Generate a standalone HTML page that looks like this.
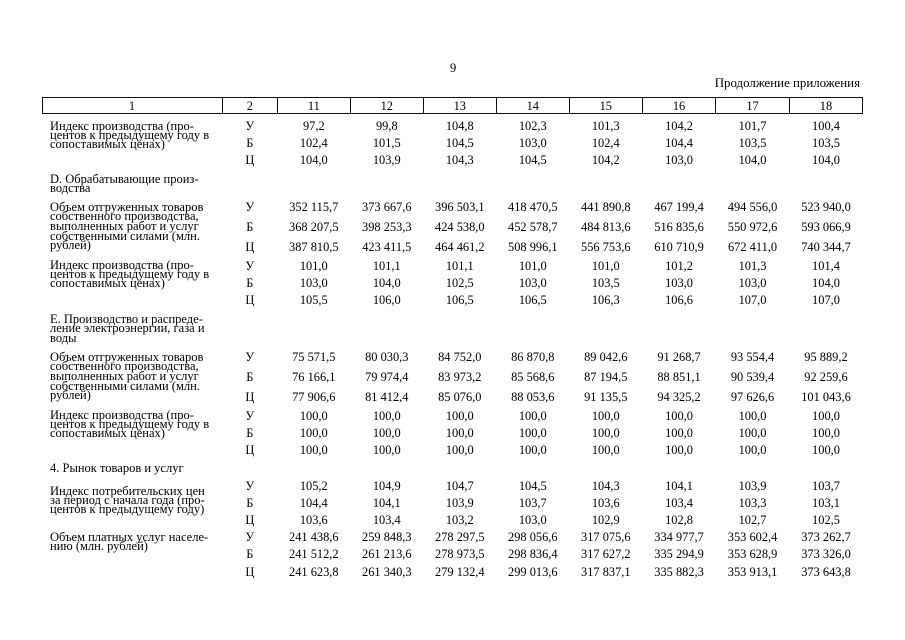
<!DOCTYPE html>
<html><head><meta charset="utf-8">
<style>
html,body{margin:0;padding:0;background:#fff;}
body{width:905px;height:640px;position:relative;overflow:hidden;font-family:"Liberation Serif","Noto Serif CJK SC",serif;color:#000;}
.t{position:absolute;white-space:nowrap;line-height:12px;height:12px;}
.l{position:absolute;left:50px;white-space:nowrap;font-size:12.5px;line-height:12px;height:12px;}
.r{position:absolute;left:0;width:905px;height:12px;line-height:12px;font-size:12.4px;}
.r span{position:absolute;text-align:center;white-space:nowrap;}
.c2{left:222.3px;width:55px;}
.c1{left:277.3px;width:73px;}
.c2b{left:350.3px;width:73px;}
.c3{left:423.3px;width:73px;}
.c4{left:496.3px;width:73px;}
.c5{left:569.3px;width:73px;}
.c6{left:642.3px;width:73.5px;}
.c7{left:715.8px;width:73.5px;}
.c8{left:789.3px;width:73.4px;}
.hl{position:absolute;background:#111;}
</style></head><body>
<div class="t" style="left:450px;top:62px;font-size:12.5px;">9</div>
<div class="t" style="right:45px;top:77px;font-size:12.9px;">Продолжение приложения</div>

<!-- header box -->
<div class="hl" style="left:42px;top:97px;width:821px;height:1px;"></div>
<div class="hl" style="left:42px;top:113px;width:821px;height:1px;"></div>
<div class="hl" style="left:42px;top:97px;width:1px;height:17px;"></div>
<div class="hl" style="left:222px;top:97px;width:1px;height:17px;"></div>
<div class="hl" style="left:277px;top:97px;width:1px;height:17px;"></div>
<div class="hl" style="left:350px;top:97px;width:1px;height:17px;"></div>
<div class="hl" style="left:423px;top:97px;width:1px;height:17px;"></div>
<div class="hl" style="left:496px;top:97px;width:1px;height:17px;"></div>
<div class="hl" style="left:569px;top:97px;width:1px;height:17px;"></div>
<div class="hl" style="left:642px;top:97px;width:1px;height:17px;"></div>
<div class="hl" style="left:715px;top:97px;width:1px;height:17px;"></div>
<div class="hl" style="left:789px;top:97px;width:1px;height:17px;"></div>
<div class="hl" style="left:862px;top:97px;width:1px;height:17px;"></div>
<div class="r" style="top:99.5px;"><span style="left:42px;width:180px;text-align:center">1</span><span class="c2">2</span><span class="c1">11</span><span class="c2b">12</span><span class="c3">13</span><span class="c4">14</span><span class="c5">15</span><span class="c6">16</span><span class="c7">17</span><span class="c8">18</span></div>

<!-- Block A -->
<div class="l" style="top:119.5px;">Индекс производства (про-</div>
<div class="l" style="top:128.7px;">центов к предыдущему году в</div>
<div class="l" style="top:137.9px;">сопоставимых ценах)</div>
<div class="r" style="top:120px;"><span class="c2">У</span><span class="c1">97,2</span><span class="c2b">99,8</span><span class="c3">104,8</span><span class="c4">102,3</span><span class="c5">101,3</span><span class="c6">104,2</span><span class="c7">101,7</span><span class="c8">100,4</span></div>
<div class="r" style="top:137px;"><span class="c2">Б</span><span class="c1">102,4</span><span class="c2b">101,5</span><span class="c3">104,5</span><span class="c4">103,0</span><span class="c5">102,4</span><span class="c6">104,4</span><span class="c7">103,5</span><span class="c8">103,5</span></div>
<div class="r" style="top:154px;"><span class="c2">Ц</span><span class="c1">104,0</span><span class="c2b">103,9</span><span class="c3">104,3</span><span class="c4">104,5</span><span class="c5">104,2</span><span class="c6">103,0</span><span class="c7">104,0</span><span class="c8">104,0</span></div>

<!-- D heading -->
<div class="l" style="top:172.5px;">D. Обрабатывающие произ-</div>
<div class="l" style="top:182px;">водства</div>

<!-- Block B -->
<div class="l" style="top:200.5px;">Объем отгруженных товаров</div>
<div class="l" style="top:210.2px;">собственного производства,</div>
<div class="l" style="top:219.9px;">выполненных работ и услуг</div>
<div class="l" style="top:229.6px;">собственными силами (млн.</div>
<div class="l" style="top:239.3px;">рублей)</div>
<div class="r" style="top:200.5px;"><span class="c2">У</span><span class="c1">352 115,7</span><span class="c2b">373 667,6</span><span class="c3">396 503,1</span><span class="c4">418 470,5</span><span class="c5">441 890,8</span><span class="c6">467 199,4</span><span class="c7">494 556,0</span><span class="c8">523 940,0</span></div>
<div class="r" style="top:220.5px;"><span class="c2">Б</span><span class="c1">368 207,5</span><span class="c2b">398 253,3</span><span class="c3">424 538,0</span><span class="c4">452 578,7</span><span class="c5">484 813,6</span><span class="c6">516 835,6</span><span class="c7">550 972,6</span><span class="c8">593 066,9</span></div>
<div class="r" style="top:240.5px;"><span class="c2">Ц</span><span class="c1">387 810,5</span><span class="c2b">423 411,5</span><span class="c3">464 461,2</span><span class="c4">508 996,1</span><span class="c5">556 753,6</span><span class="c6">610 710,9</span><span class="c7">672 411,0</span><span class="c8">740 344,7</span></div>

<!-- Block C -->
<div class="l" style="top:259px;">Индекс производства (про-</div>
<div class="l" style="top:268.2px;">центов к предыдущему году в</div>
<div class="l" style="top:277.4px;">сопоставимых ценах)</div>
<div class="r" style="top:259.5px;"><span class="c2">У</span><span class="c1">101,0</span><span class="c2b">101,1</span><span class="c3">101,1</span><span class="c4">101,0</span><span class="c5">101,0</span><span class="c6">101,2</span><span class="c7">101,3</span><span class="c8">101,4</span></div>
<div class="r" style="top:277px;"><span class="c2">Б</span><span class="c1">103,0</span><span class="c2b">104,0</span><span class="c3">102,5</span><span class="c4">103,0</span><span class="c5">103,5</span><span class="c6">103,0</span><span class="c7">103,0</span><span class="c8">104,0</span></div>
<div class="r" style="top:294px;"><span class="c2">Ц</span><span class="c1">105,5</span><span class="c2b">106,0</span><span class="c3">106,5</span><span class="c4">106,5</span><span class="c5">106,3</span><span class="c6">106,6</span><span class="c7">107,0</span><span class="c8">107,0</span></div>

<!-- E heading -->
<div class="l" style="top:312.5px;">Е. Производство и распреде-</div>
<div class="l" style="top:322px;">ление электроэнергии, газа и</div>
<div class="l" style="top:331.5px;">воды</div>

<!-- Block D -->
<div class="l" style="top:350.5px;">Объем отгруженных товаров</div>
<div class="l" style="top:360.2px;">собственного производства,</div>
<div class="l" style="top:369.9px;">выполненных работ и услуг</div>
<div class="l" style="top:379.6px;">собственными силами (млн.</div>
<div class="l" style="top:389.3px;">рублей)</div>
<div class="r" style="top:351px;"><span class="c2">У</span><span class="c1">75 571,5</span><span class="c2b">80 030,3</span><span class="c3">84 752,0</span><span class="c4">86 870,8</span><span class="c5">89 042,6</span><span class="c6">91 268,7</span><span class="c7">93 554,4</span><span class="c8">95 889,2</span></div>
<div class="r" style="top:371px;"><span class="c2">Б</span><span class="c1">76 166,1</span><span class="c2b">79 974,4</span><span class="c3">83 973,2</span><span class="c4">85 568,6</span><span class="c5">87 194,5</span><span class="c6">88 851,1</span><span class="c7">90 539,4</span><span class="c8">92 259,6</span></div>
<div class="r" style="top:391px;"><span class="c2">Ц</span><span class="c1">77 906,6</span><span class="c2b">81 412,4</span><span class="c3">85 076,0</span><span class="c4">88 053,6</span><span class="c5">91 135,5</span><span class="c6">94 325,2</span><span class="c7">97 626,6</span><span class="c8">101 043,6</span></div>

<!-- Block E -->
<div class="l" style="top:409px;">Индекс производства (про-</div>
<div class="l" style="top:418.2px;">центов к предыдущему году в</div>
<div class="l" style="top:427.4px;">сопоставимых ценах)</div>
<div class="r" style="top:409.5px;"><span class="c2">У</span><span class="c1">100,0</span><span class="c2b">100,0</span><span class="c3">100,0</span><span class="c4">100,0</span><span class="c5">100,0</span><span class="c6">100,0</span><span class="c7">100,0</span><span class="c8">100,0</span></div>
<div class="r" style="top:426.5px;"><span class="c2">Б</span><span class="c1">100,0</span><span class="c2b">100,0</span><span class="c3">100,0</span><span class="c4">100,0</span><span class="c5">100,0</span><span class="c6">100,0</span><span class="c7">100,0</span><span class="c8">100,0</span></div>
<div class="r" style="top:444px;"><span class="c2">Ц</span><span class="c1">100,0</span><span class="c2b">100,0</span><span class="c3">100,0</span><span class="c4">100,0</span><span class="c5">100,0</span><span class="c6">100,0</span><span class="c7">100,0</span><span class="c8">100,0</span></div>

<!-- 4 heading -->
<div class="l" style="top:461.5px;">4. Рынок товаров и услуг</div>

<!-- Block F -->
<div class="l" style="top:484.5px;">Индекс потребительских цен</div>
<div class="l" style="top:493.7px;">за период с начала года (про-</div>
<div class="l" style="top:502.9px;">центов к предыдущему году)</div>
<div class="r" style="top:479.5px;"><span class="c2">У</span><span class="c1">105,2</span><span class="c2b">104,9</span><span class="c3">104,7</span><span class="c4">104,5</span><span class="c5">104,3</span><span class="c6">104,1</span><span class="c7">103,9</span><span class="c8">103,7</span></div>
<div class="r" style="top:496.5px;"><span class="c2">Б</span><span class="c1">104,4</span><span class="c2b">104,1</span><span class="c3">103,9</span><span class="c4">103,7</span><span class="c5">103,6</span><span class="c6">103,4</span><span class="c7">103,3</span><span class="c8">103,1</span></div>
<div class="r" style="top:514px;"><span class="c2">Ц</span><span class="c1">103,6</span><span class="c2b">103,4</span><span class="c3">103,2</span><span class="c4">103,0</span><span class="c5">102,9</span><span class="c6">102,8</span><span class="c7">102,7</span><span class="c8">102,5</span></div>

<!-- Block G -->
<div class="l" style="top:531px;">Объем платных услуг населе-</div>
<div class="l" style="top:540.2px;">нию (млн. рублей)</div>
<div class="r" style="top:531px;"><span class="c2">У</span><span class="c1">241 438,6</span><span class="c2b">259 848,3</span><span class="c3">278 297,5</span><span class="c4">298 056,6</span><span class="c5">317 075,6</span><span class="c6">334 977,7</span><span class="c7">353 602,4</span><span class="c8">373 262,7</span></div>
<div class="r" style="top:548px;"><span class="c2">Б</span><span class="c1">241 512,2</span><span class="c2b">261 213,6</span><span class="c3">278 973,5</span><span class="c4">298 836,4</span><span class="c5">317 627,2</span><span class="c6">335 294,9</span><span class="c7">353 628,9</span><span class="c8">373 326,0</span></div>
<div class="r" style="top:565.5px;"><span class="c2">Ц</span><span class="c1">241 623,8</span><span class="c2b">261 340,3</span><span class="c3">279 132,4</span><span class="c4">299 013,6</span><span class="c5">317 837,1</span><span class="c6">335 882,3</span><span class="c7">353 913,1</span><span class="c8">373 643,8</span></div>
</body></html>
